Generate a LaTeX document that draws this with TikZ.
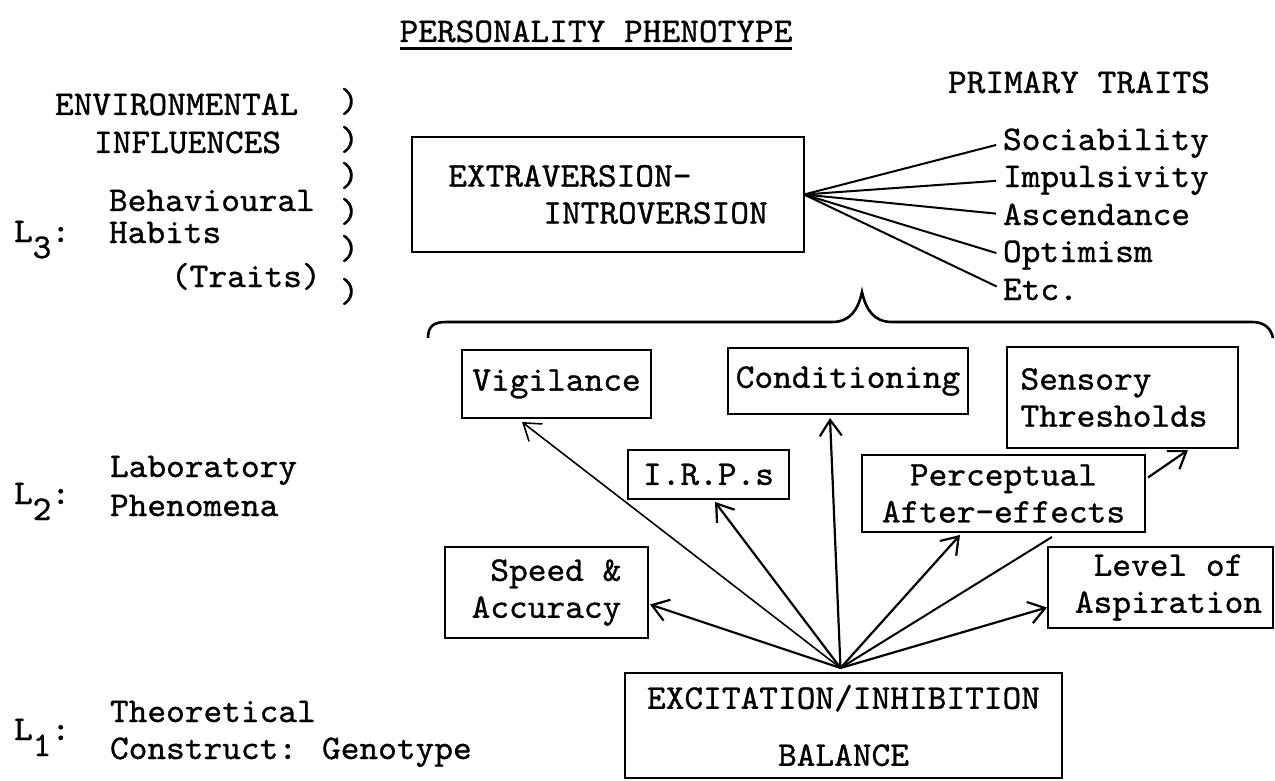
\documentclass[tikz,border=0pt]{standalone}
\usepackage{fontspec}
\newfontfamily\tw{lmmono10-regular.otf}[FakeStretch=1.03,FakeBold=0.9]
\usetikzlibrary{arrows.meta,calc}
\begin{document}
\begin{tikzpicture}[x=1pt,y=-1pt,
  txt/.style={font={\tw\fontsize{34.6pt}{37pt}\selectfont}, inner sep=0pt, outer sep=0pt},
  lbl/.style={txt, anchor=base west},
  paren/.style={lbl},
  bx/.style={txt, draw, line width=2.6pt, anchor=north west, align=center},
  conn/.style={line width=2.2pt, -{Straight Barb[length=16pt,width=22pt]}},
  fanline/.style={line width=2pt},
  ]
\useasboundingbox (0,0) rectangle (1275,781);

% heading
\node[txt, anchor=base] (title) at (596,42) {PERSONALITY PHENOTYPE};
\draw[line width=3pt] ([yshift=-7pt]title.base west) -- ([yshift=-7pt]title.base east);

% level L3 labels
\node[lbl] (env1) at (55,115) {ENVIRONMENTAL};
\node[lbl] (env2) at (94,153) {INFLUENCES};
\node[lbl] (beh) at (109,211) {Behavioural};
\node[lbl] (lthree) at (14,242) {L\raisebox{-16pt}{3}:};
\node[lbl] (hab) at (109,243) {Habits};
\node[lbl] (trt) at (171,287) {(Traits)};
\node[paren] (p1) at (340,112) {)};
\node[paren] (p2) at (340,150) {)};
\node[paren] (p3) at (340,186) {)};
\node[paren] (p4) at (340,222) {)};
\node[paren] (p5) at (340,259) {)};
\node[paren] (p6) at (340,302) {)};

% level L2 and L1 labels
\node[lbl] (ltwo) at (14,504) {L\raisebox{-16pt}{2}:};
\node[lbl] (lab) at (110,477) {Laboratory};
\node[lbl] (phen) at (110,516) {Phenomena};
\node[lbl] (lone) at (14,740) {L\raisebox{-16pt}{1}:};
\node[lbl] (theo) at (110,722) {Theoretical};
\node[lbl] (cons) at (110,759) {Construct: Genotype};

% primary traits
\node[lbl] (prim) at (948,93) {PRIMARY TRAITS};
\node[lbl] (soc) at (1003,150) {Sociability};
\node[lbl] (imp) at (1003,187) {Impulsivity};
\node[lbl] (asc) at (1003,225) {Ascendance};
\node[lbl] (opt) at (1003,262) {Optimism};
\node[lbl] (etc) at (1003,300) {Etc.};

% boxes
\node[bx, align=left, minimum width=392pt, minimum height=115pt] (ei) at (412,137)
  {EXTRAVERSION-\\\hspace*{95pt}INTROVERSION};
\node[bx, minimum width=189pt, minimum height=68pt] (vig) at (462,350) {Vigilance};
\node[bx, minimum width=240pt, minimum height=66pt] (cond) at (728,348) {Conditioning};
\node[bx, align=left, text width=204pt, minimum width=231pt, minimum height=101pt] (sens) at (1007,347)
  {Sensory\\Thresholds};
\node[bx, minimum width=161pt, minimum height=49pt] (irp) at (628,450) {I.R.P.s};
\node[bx, minimum width=283pt, minimum height=77pt] (perc) at (862,455) {Perceptual\\After-effects};
\node[bx, align=right, minimum width=203pt, minimum height=91pt] (speed) at (445,547) {Speed \&\\Accuracy};
\node[bx, minimum width=225pt, minimum height=81pt] (level) at (1048,547) {\hspace*{16pt}Level of\\\hspace*{16pt}Aspiration};
\node[bx, minimum width=437pt, minimum height=105pt] (exc) at (625,673)
  {EXCITATION/INHIBITION\\[20pt]BALANCE};

% fan of primary traits
\foreach \t in {soc,imp,asc,opt,etc}
  \draw[fanline, shorten >=7pt] (ei.east) -- (\t.west);

% brace over the laboratory phenomena
\draw[line width=2.6pt] (428,338) .. controls (428,326) and (434,322) .. (446,322)
  -- (832,322) .. controls (850,322) and (858,310) .. (862,292)
  .. controls (866,310) and (874,322) .. (892,322)
  -- (1252,322) .. controls (1264,322) and (1271,328) .. (1273,338);

% arrows from the balance
\coordinate (apex) at ([shift={(-3,-5)}]exc.north);
\draw[conn, line width=1.6pt] (apex) -- ([shift={(60,4)}]vig.south west);
\draw[conn] (apex) -- ([shift={(87,3)}]irp.south west);
\draw[conn] (apex) -- ([shift={(102,4)}]cond.south west);
\draw[conn] (apex) -- ([shift={(2,12)}]speed.east);
\draw[conn] (apex) -- ([shift={(98,3)}]perc.south west);
\draw[fanline] (apex) -- ([shift={(190,5)}]perc.south west);
\draw[conn] (apex) -- ([shift={(-1,20)}]level.west);
\draw[conn] ([shift={(3,-16)}]perc.east) -- ([shift={(181,2)}]sens.south west);
\end{tikzpicture}
\end{document}
